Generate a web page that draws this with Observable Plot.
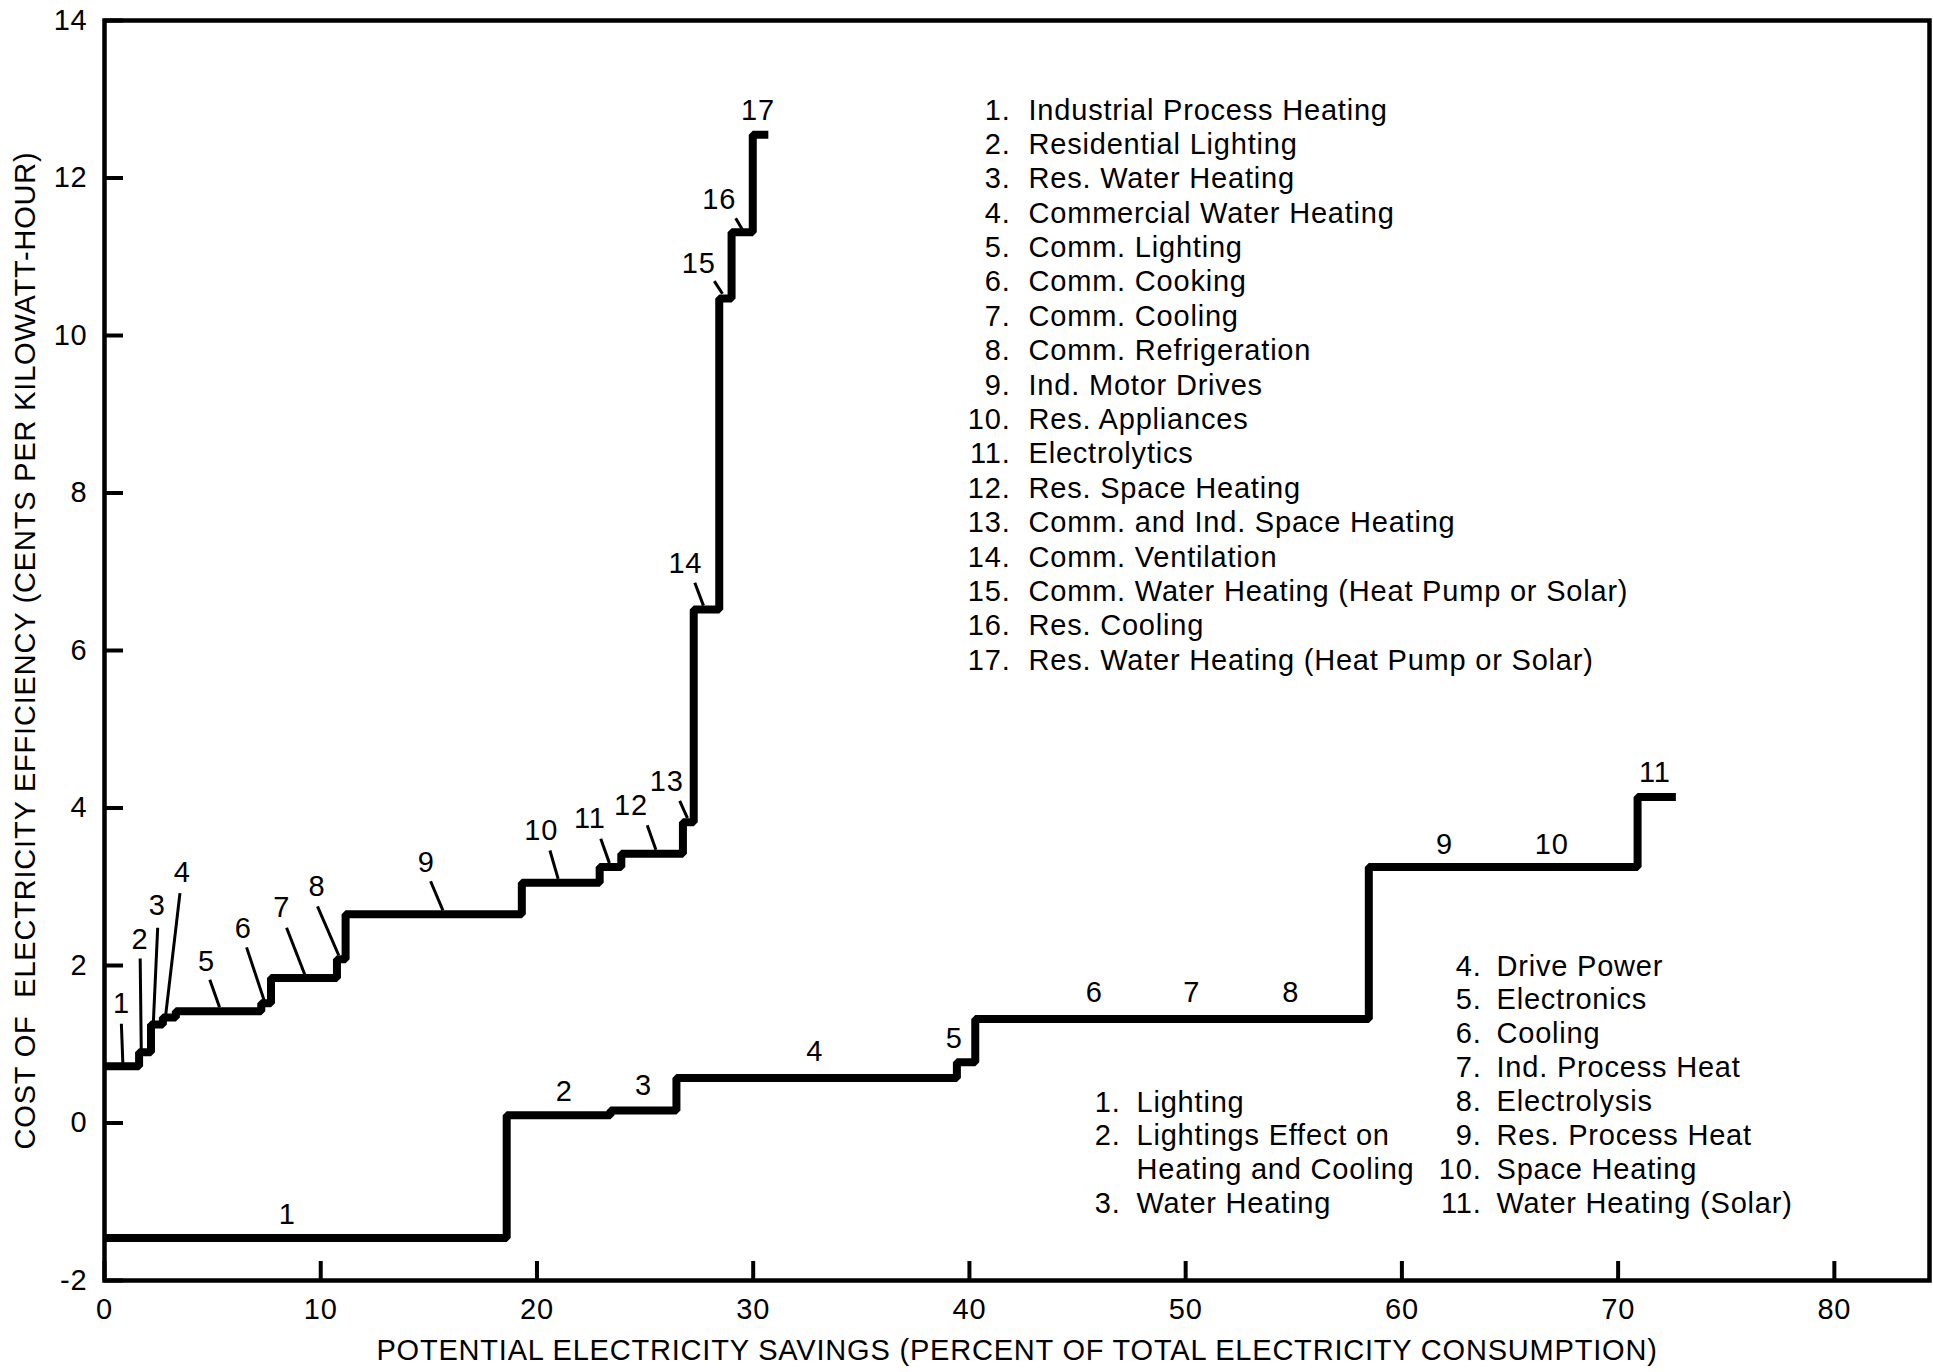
<!DOCTYPE html>
<html>
<head>
<meta charset="utf-8">
<script src="https://cdn.jsdelivr.net/npm/d3@7"></script>
<script src="https://cdn.jsdelivr.net/npm/@observablehq/plot@0.6"></script>
<style>
  html, body { margin: 0; padding: 0; background: #fff; }
  svg text { white-space: pre; letter-spacing: 0.8px; }
</style>
</head>
<body>
<script>
// ---------- DATA ----------
const xTicks = [0, 10, 20, 30, 40, 50, 60, 70, 80];
const yTicks = [-2, 0, 2, 4, 6, 8, 10, 12, 14];

// Upper curve (17 measures): start of each step (percent) and cost (cents/kWh)
const upperStart = [0, 1.6, 2.15, 2.7, 3.3, 7.25, 7.7, 10.75, 11.15, 19.3, 22.9, 23.9, 26.75, 27.25, 28.43, 29.0, 29.98];
const upperCost  = [0.72, 0.90, 1.25, 1.34, 1.42, 1.52, 1.84, 2.08, 2.65, 3.05, 3.25, 3.42, 3.82, 6.52, 10.47, 11.31, 12.55];
const upperEnd = 30.7;

// Lower curve (11 measures)
const lowerStart = [0, 18.6, 23.4, 26.45, 39.42, 40.27, 58.47, 70.9];
const lowerCost  = [-1.46, 0.10, 0.16, 0.57, 0.77, 1.32, 3.25, 4.14];
const lowerEnd = 72.67;

// Upper curve number labels
const upperLabelText = ["1","2","3","4","5","6","7","8","9","10","11","12","13","14","15","16","17"];
const upperLabelX = [0.79, 1.64, 2.44, 3.60, 4.72, 6.41, 8.20, 9.83, 14.88, 20.2, 22.45, 24.35, 26.0, 26.86, 27.48, 28.43, 30.22];
const upperLabelY = [1.52, 2.33, 2.76, 3.18, 2.05, 2.47, 2.73, 3.00, 3.30, 3.71, 3.86, 4.03, 4.34, 7.10, 10.91, 11.72, 12.85];

// Leader lines of the upper labels (1..16)
const leaderX1 = [0.78, 1.65, 2.46, 3.49, 4.87, 6.57, 8.42, 9.85, 15.08, 20.6, 22.95, 25.1, 26.6, 27.3, 28.2, 29.19];
const leaderY1 = [1.26, 2.09, 2.48, 2.92, 1.82, 2.23, 2.48, 2.75, 3.07, 3.46, 3.61, 3.78, 4.09, 6.86, 10.69, 11.49];
const leaderX2 = [0.85, 1.70, 2.26, 2.83, 5.32, 7.38, 9.27, 10.83, 15.65, 20.98, 23.35, 25.5, 26.96, 27.7, 28.58, 29.49];
const leaderY2 = [0.75, 0.93, 1.28, 1.37, 1.47, 1.56, 1.88, 2.13, 2.70, 3.10, 3.30, 3.47, 3.87, 6.57, 10.53, 11.35];

// Lower curve number labels
const lowerLabelText = ["1","2","3","4","5","6","7","8","9","10","11"];
const lowerLabelX = [8.45, 21.26, 24.92, 32.85, 39.3, 45.77, 50.28, 54.86, 61.97, 66.93, 71.7];
const lowerLabelY = [-1.17, 0.40, 0.47, 0.90, 1.07, 1.65, 1.65, 1.65, 3.53, 3.53, 4.45];

// Legends
const upperNames = [
  "Industrial Process Heating", "Residential Lighting", "Res. Water Heating",
  "Commercial Water Heating", "Comm. Lighting", "Comm. Cooking", "Comm. Cooling",
  "Comm. Refrigeration", "Ind. Motor Drives", "Res. Appliances", "Electrolytics",
  "Res. Space Heating", "Comm. and Ind. Space Heating", "Comm. Ventilation",
  "Comm. Water Heating (Heat Pump or Solar)", "Res. Cooling",
  "Res. Water Heating (Heat Pump or Solar)"
];
const lowerNamesA = ["Lighting", "Lightings Effect on\nHeating and Cooling", "Water Heating"];
const lowerNamesB = ["Drive Power", "Electronics", "Cooling", "Ind. Process Heat", "Electrolysis",
  "Res. Process Heat", "Space Heating", "Water Heating (Solar)"];

const xTitle = "POTENTIAL ELECTRICITY SAVINGS (PERCENT OF TOTAL ELECTRICITY CONSUMPTION)";
const yTitle = "COST OF  ELECTRICITY EFFICIENCY (CENTS PER KILOWATT-HOUR)";

// ---------- BUILD ----------
function steps(starts, costs, end) {
  const pts = starts.map((s, i) => ({x: s, y: costs[i]}));
  pts.push({x: end, y: costs[costs.length - 1]});
  return pts;
}
const upperPts = steps(upperStart, upperCost, upperEnd);
const lowerPts = steps(lowerStart, lowerCost, lowerEnd);
const upperLabels = upperLabelText.map((t, i) => ({t, x: upperLabelX[i], y: upperLabelY[i]}));
const lowerLabels = lowerLabelText.map((t, i) => ({t, x: lowerLabelX[i], y: lowerLabelY[i]}));
const leaders = leaderX1.map((x1, i) => ({x1, y1: leaderY1[i], x2: leaderX2[i], y2: leaderY2[i]}));

// legend columns (numbers right-aligned, names left-aligned)
const upperNums = upperNames.map((_, i) => `${i + 1}.`).join("\n");
const upperText = upperNames.join("\n");
let aNums = [], aText = [];
lowerNamesA.forEach((n, i) => {
  const lines = n.split("\n");
  aNums.push(`${i + 1}.`);
  for (let k = 1; k < lines.length; ++k) aNums.push("");
  aText.push(...lines);
});
const bNums = lowerNamesB.map((_, i) => `${i + 4}.`).join("\n");
const bText = lowerNamesB.join("\n");

const FS = 29;
const mL = 104, mT = 20;

const chart = Plot.plot({
  width: 1933,
  height: 1372,
  marginLeft: mL,
  marginRight: 4,
  marginTop: mT,
  marginBottom: 92,
  style: {fontFamily: "'Liberation Sans', Arial, sans-serif", fontSize: FS + "px", background: "#fff", color: "#000"},
  x: {domain: [0, 84.4]},
  y: {domain: [-2, 14]},
  marks: [
    Plot.axisX({ticks: xTicks, tickSize: -19, tickPadding: 37, strokeWidth: 4, label: null, tickFormat: d => String(d), fontSize: FS}),
    Plot.axisY({ticks: yTicks, tickSize: -19, tickPadding: 36, strokeWidth: 4, label: null, tickFormat: d => String(d), fontSize: FS}),
    Plot.frame({stroke: "#000", strokeWidth: 4.5}),
    Plot.line(upperPts, {x: "x", y: "y", curve: "step-after", stroke: "#000", strokeWidth: 8, strokeLinejoin: "miter", strokeLinecap: "butt"}),
    Plot.line(lowerPts, {x: "x", y: "y", curve: "step-after", stroke: "#000", strokeWidth: 8, strokeLinejoin: "miter", strokeLinecap: "butt"}),
    Plot.link(leaders, {x1: "x1", y1: "y1", x2: "x2", y2: "y2", stroke: "#000", strokeWidth: 3}),
    Plot.text(upperLabels, {x: "x", y: "y", text: "t", fontSize: FS, lineAnchor: "middle", fill: "#000"}),
    Plot.text(lowerLabels, {x: "x", y: "y", text: "t", fontSize: FS, lineAnchor: "middle", fill: "#000"}),
    // axis titles
    Plot.text([xTitle], {frameAnchor: "bottom", dy: 70, textAnchor: "middle", lineAnchor: "middle", fontSize: FS, fill: "#000"}),
    Plot.text([yTitle], {frameAnchor: "left", dx: -79, rotate: -90, textAnchor: "middle", lineAnchor: "middle", fontSize: FS, fill: "#000"}),
    // upper legend
    Plot.text([upperNums], {frameAnchor: "top-left", dx: 1010 - mL, dy: 119 - mT - 0.71 * 34.4, textAnchor: "end", lineAnchor: "top", lineHeight: 34.4 / FS, fontSize: FS, fill: "#000"}),
    Plot.text([upperText], {frameAnchor: "top-left", dx: 1028 - mL, dy: 119 - mT - 0.71 * 34.4, textAnchor: "start", lineAnchor: "top", lineHeight: 34.4 / FS, fontSize: FS, fill: "#000"}),
    // lower legend A
    Plot.text([aNums.join("\n")], {frameAnchor: "top-left", dx: 1120 - mL, dy: 1111 - mT - 0.71 * 34, textAnchor: "end", lineAnchor: "top", lineHeight: 34 / FS, fontSize: FS, fill: "#000"}),
    Plot.text([aText.join("\n")], {frameAnchor: "top-left", dx: 1136 - mL, dy: 1111 - mT - 0.71 * 34, textAnchor: "start", lineAnchor: "top", lineHeight: 34 / FS, fontSize: FS, fill: "#000"}),
    // lower legend B
    Plot.text([bNums], {frameAnchor: "top-left", dx: 1481 - mL, dy: 975 - mT - 0.71 * 34, textAnchor: "end", lineAnchor: "top", lineHeight: 34 / FS, fontSize: FS, fill: "#000"}),
    Plot.text([bText], {frameAnchor: "top-left", dx: 1496 - mL, dy: 975 - mT - 0.71 * 34, textAnchor: "start", lineAnchor: "top", lineHeight: 34 / FS, fontSize: FS, fill: "#000"})
  ]
});
document.body.append(chart);
</script>
</body>
</html>
